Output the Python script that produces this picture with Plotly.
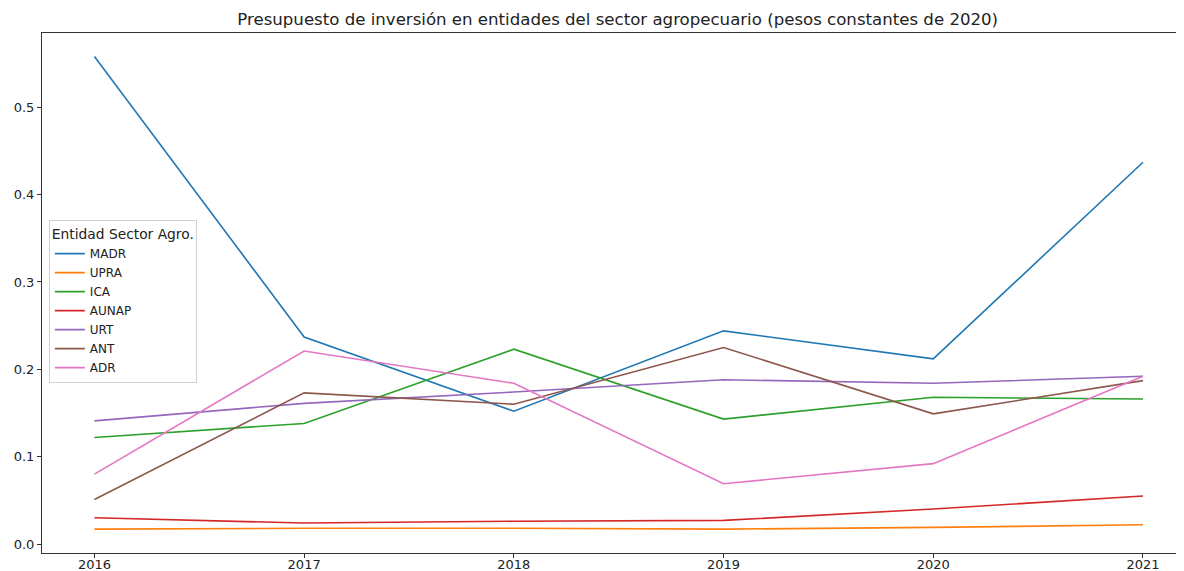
import plotly.graph_objects as go

years = [2016, 2017, 2018, 2019, 2020, 2021]
entities = ["MADR", "UPRA", "ICA", "AUNAP", "URT", "ANT", "ADR"]
madr = [0.558, 0.237, 0.152, 0.244, 0.212, 0.437]
upra = [0.017, 0.018, 0.018, 0.017, 0.019, 0.022]
ica = [0.122, 0.138, 0.223, 0.143, 0.168, 0.166]
aunap = [0.030, 0.024, 0.026, 0.027, 0.040, 0.055]
urt = [0.141, 0.161, 0.174, 0.188, 0.184, 0.192]
ant = [0.051, 0.173, 0.160, 0.225, 0.149, 0.187]
adr = [0.080, 0.221, 0.184, 0.069, 0.092, 0.192]
series = [madr, upra, ica, aunap, urt, ant, adr]
colors = ["#1f77b4", "#ff7f0e", "#2ca02c", "#d62728", "#9467bd", "#8c564b", "#e377c2"]

fig = go.Figure()
for name, vals, c in zip(entities, series, colors):
    fig.add_trace(go.Scatter(x=years, y=vals, mode="lines", name=name,
                             line=dict(color=c, width=1.6)))

font = "DejaVu Sans"
W, H = 1176, 563  # page body has an 8px margin
fig.update_layout(
    width=W, height=H,
    paper_bgcolor="white", plot_bgcolor="white",
    margin=dict(l=34, r=2, t=25, b=18, autoexpand=False),
    font=dict(family=font, size=13, color="#222"),
    title=dict(text="Presupuesto de inversión en entidades del sector agropecuario (pesos constantes de 2020)",
               x=0.505, xref="paper", xanchor="center", y=1 - 11/H, yref="container", yanchor="middle",
               font=dict(family=font, size=16.6, color="#222")),
    legend=dict(x=0.006, y=0.64, xanchor="left", yanchor="top",
                bgcolor="rgba(255,255,255,0.8)", bordercolor="#d0d0d0", borderwidth=1,
                title=dict(text="Entidad Sector Agro.", side="top", font=dict(family=font, size=13.8)),
                font=dict(family=font, size=12), tracegroupgap=0),
    showlegend=True,
)
fig.update_xaxes(range=[2015.75, 2021.186], tickvals=years, ticktext=[str(y) for y in years],
                 automargin=False, ticklabelstandoff=-5,
                 showgrid=False, zeroline=False, showline=True, linecolor="#333", linewidth=1,
                 mirror=True, ticks="outside", ticklen=4, tickcolor="#333",
                 tickfont=dict(family=font, size=13, color="#222"))
fig.update_yaxes(range=[-0.0103, 0.585], tickvals=[0, 0.1, 0.2, 0.3, 0.4, 0.5], tickformat=".1f",
                 automargin=False,
                 showgrid=False, zeroline=False, showline=True, linecolor="#333", linewidth=1,
                 mirror=False, ticks="outside", ticklen=4, tickcolor="#333",
                 tickfont=dict(family=font, size=13, color="#222"))

fig.write_html("out.html")
